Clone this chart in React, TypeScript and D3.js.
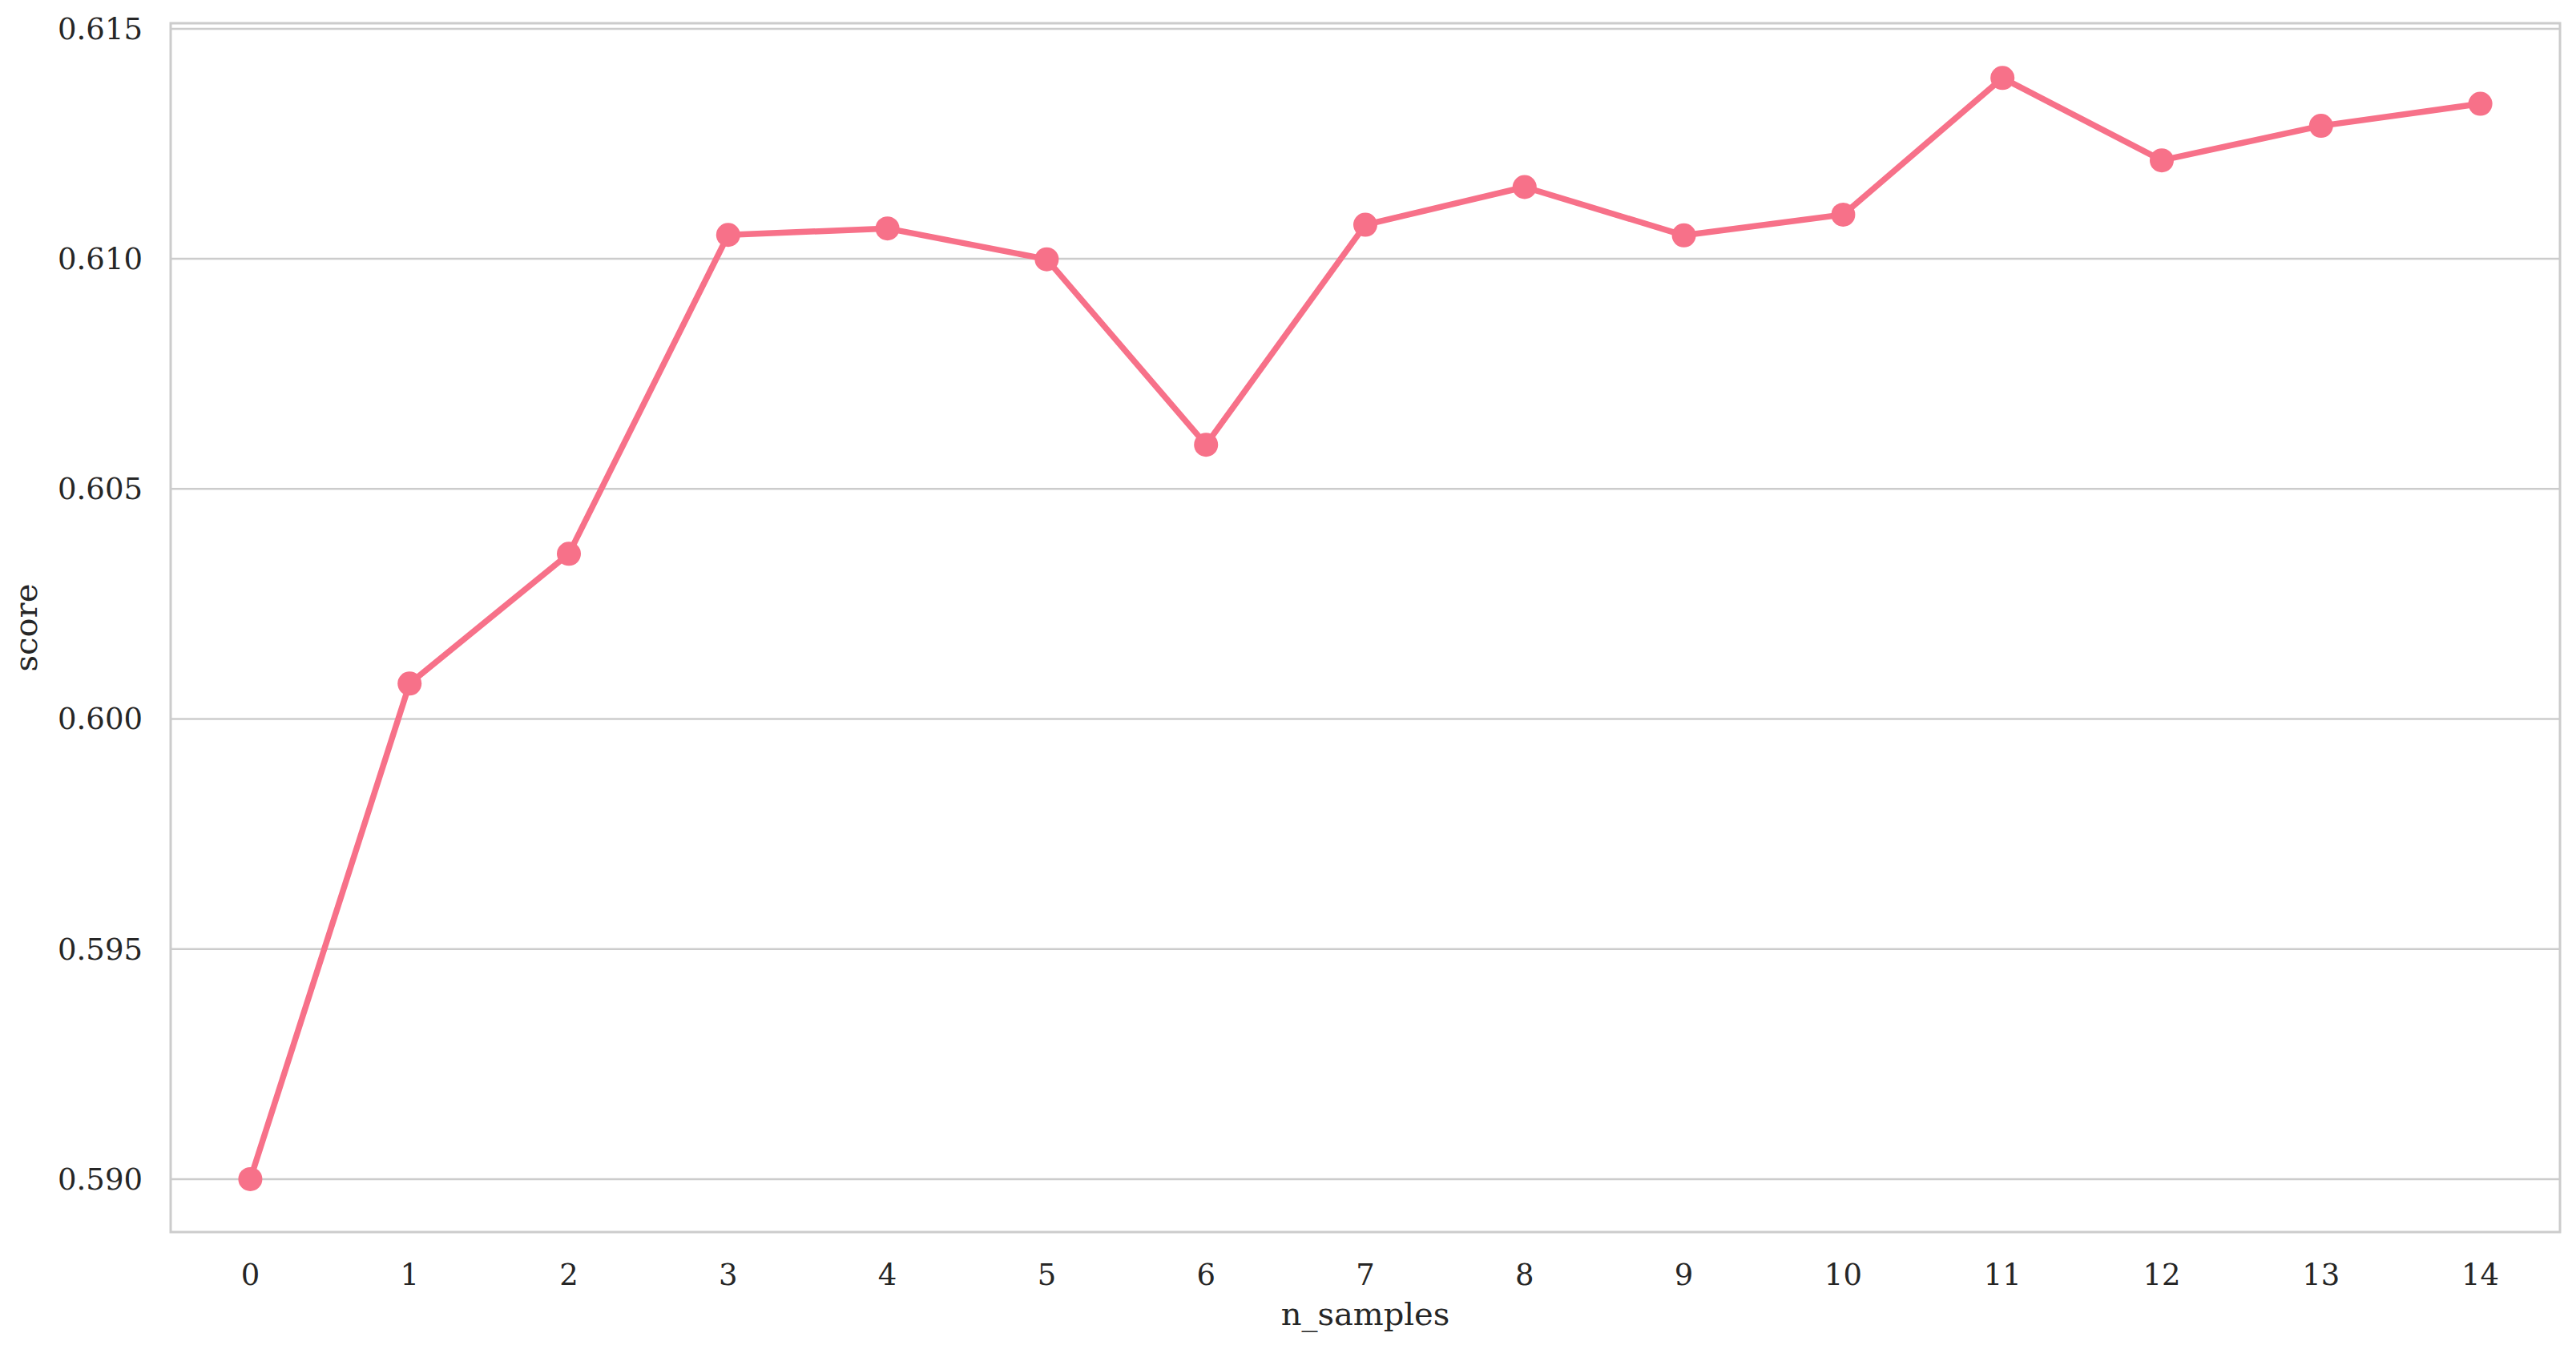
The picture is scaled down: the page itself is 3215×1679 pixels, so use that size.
import React from 'react';
import * as d3 from 'd3';

// n_samples categories and mean score per category
const nSamples = ['0', '1', '2', '3', '4', '5', '6', '7', '8', '9', '10', '11', '12', '13', '14'];
const scores = [
  0.59, 0.60077, 0.60359, 0.61052, 0.61066, 0.60999, 0.60596, 0.61074, 0.61156, 0.61051, 0.61096,
  0.61393, 0.61214, 0.61289, 0.61337,
];
const yTicks = [0.59, 0.595, 0.6, 0.605, 0.61, 0.615];

const W = 3215;
const H = 1679;
const margin = { top: 29, right: 20, bottom: 141, left: 213 };
const lineColor = '#f77189';
const gridColor = '#cccccc';
const textColor = '#262626';
const font = '"DejaVu Serif", serif';

export default function App() {
  const x = d3
    .scalePoint<string>()
    .domain(nSamples)
    .range([margin.left, W - margin.right])
    .padding(0.5);
  const y = d3
    .scaleLinear()
    .domain([0.58885, 0.61512])
    .range([H - margin.bottom, margin.top]);

  const line = d3
    .line<number>()
    .x((_, i) => x(nSamples[i]) as number)
    .y((d) => y(d));

  const fmt = d3.format('.3f');
  const plotW = W - margin.left - margin.right;
  const plotH = H - margin.top - margin.bottom;

  return (
    <svg
      width={W}
      height={H}
      style={{ position: 'absolute', left: 0, top: 0, background: '#fff' }}
      fontFamily={font}
    >
      {/* grid */}
      {yTicks.map((t) => (
        <line
          key={'g' + t}
          x1={margin.left}
          x2={W - margin.right}
          y1={y(t)}
          y2={y(t)}
          stroke={gridColor}
          strokeWidth={2.5}
        />
      ))}
      {/* frame */}
      <rect
        x={margin.left}
        y={margin.top}
        width={plotW}
        height={plotH}
        fill="none"
        stroke={gridColor}
        strokeWidth={3}
      />
      {/* y tick labels */}
      {yTicks.map((t) => (
        <text
          key={'t' + t}
          x={margin.left - 35}
          y={y(t)}
          dy="0.35em"
          textAnchor="end"
          fontSize={37}
          fill={textColor}
        >
          {fmt(t)}
        </text>
      ))}
      {/* x tick labels */}
      {nSamples.map((c) => (
        <text
          key={'x' + c}
          x={x(c)}
          y={H - margin.bottom + 53}
          dy="0.35em"
          textAnchor="middle"
          fontSize={37}
          fill={textColor}
        >
          {c}
        </text>
      ))}
      {/* axis labels */}
      <text
        x={margin.left + plotW / 2}
        y={H - margin.bottom + 116}
        textAnchor="middle"
        fontSize={40}
        fill={textColor}
      >
        n_samples
      </text>
      <text
        transform={`translate(46,${margin.top + plotH / 2}) rotate(-90)`}
        textAnchor="middle"
        fontSize={40}
        fill={textColor}
      >
        score
      </text>
      {/* series */}
      <path d={line(scores) || ''} fill="none" stroke={lineColor} strokeWidth={7.5} strokeLinejoin="round" />
      {scores.map((s, i) => (
        <circle key={'p' + i} cx={x(nSamples[i])} cy={y(s)} r={15} fill={lineColor} />
      ))}
    </svg>
  );
}
